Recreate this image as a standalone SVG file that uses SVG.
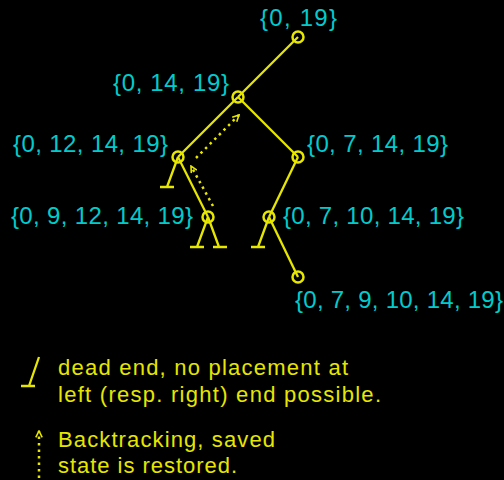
<svg xmlns="http://www.w3.org/2000/svg" width="504" height="480" viewBox="0 0 504 480">
<defs>
<style>
.e{stroke:#E6E600;stroke-width:2.3;fill:none}
.d{stroke:#E6E600;stroke-width:2.5;fill:none;stroke-dasharray:2.5 4}
.n{stroke:#E6E600;stroke-width:2.5;fill:none}
.l{fill:#00CCCC;font-family:"Liberation Sans",Arial,sans-serif;font-size:24px}
.t{fill:#E6E600;font-family:"Liberation Sans",Arial,sans-serif;font-size:22px}
</style>
<marker id="ah" viewBox="0 0 10 10" refX="9" refY="5" markerWidth="8" markerHeight="8" orient="auto" markerUnits="userSpaceOnUse">
<path d="M1,1 L9,5 L1,9" fill="none" stroke="#E6E600" stroke-width="2"/>
</marker>
</defs>
<rect width="504" height="480" fill="#000"/>
<g id="connectors">
<line class="e" x1="298" y1="37" x2="238" y2="97"/>
<line class="e" x1="238" y1="97" x2="178" y2="157"/>
<line class="e" x1="238" y1="97" x2="298" y2="157"/>
<line class="e" x1="178" y1="157" x2="208" y2="217"/>
<line class="e" x1="298" y1="157" x2="269" y2="217"/>
<line class="e" x1="269" y1="217" x2="298" y2="277"/>
<path class="e" d="M178,157 L167,187 M160,187 H174"/>
<path class="e" d="M208,217 L197,247 M190,247 H204"/>
<path class="e" d="M208,217 L219,247 M213,247 H227"/>
<path class="e" d="M269,217 L258,247 M251,247 H265"/>
<line class="d" x1="196" y1="158" x2="239" y2="115" marker-end="url(#ah)"/>
<line class="d" x1="213" y1="206" x2="191" y2="166" marker-end="url(#ah)"/>
</g>
<g id="n1"><circle class="n" cx="298" cy="37" r="5.5"/><text class="l" x="260" y="25.5" textLength="77">{0, 19}</text></g>
<g id="n2"><circle class="n" cx="238" cy="97" r="5.5"/><text class="l" x="113" y="91" textLength="116">{0, 14, 19}</text></g>
<g id="n3"><circle class="n" cx="178" cy="157" r="5.5"/><text class="l" x="13" y="152" textLength="155">{0, 12, 14, 19}</text></g>
<g id="n4"><circle class="n" cx="298" cy="157" r="5.5"/><text class="l" x="307" y="152" textLength="141">{0, 7, 14, 19}</text></g>
<g id="n5"><circle class="n" cx="208" cy="217" r="5.5"/><text class="l" x="11" y="224" textLength="182">{0, 9, 12, 14, 19}</text></g>
<g id="n6"><circle class="n" cx="269" cy="217" r="5.5"/><text class="l" x="283" y="224" textLength="181">{0, 7, 10, 14, 19}</text></g>
<g id="n7"><circle class="n" cx="298" cy="277" r="5.5"/><text class="l" x="295" y="308" textLength="208">{0, 7, 9, 10, 14, 19}</text></g>
<g id="legend">
<path class="e" d="M39,357 L29,386 M21,386 H35"/>
<text class="t" x="58" y="375" textLength="290">dead end, no placement at</text>
<text class="t" x="58" y="402" textLength="323">left (resp. right) end possible.</text>
<line class="d" x1="39" y1="478" x2="39" y2="431" marker-end="url(#ah)"/>
<text class="t" x="58" y="447" textLength="217">Backtracking, saved</text>
<text class="t" x="58" y="473" textLength="179">state is restored.</text>
</g>
</svg>
